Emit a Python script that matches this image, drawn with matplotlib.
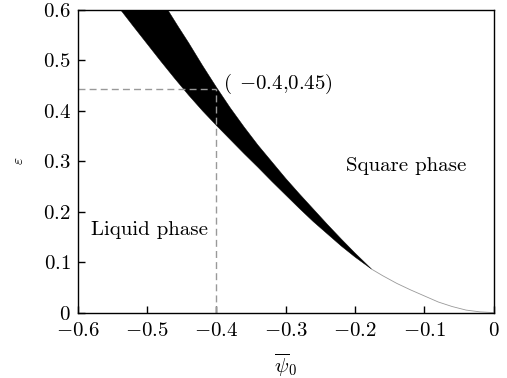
import numpy as np
import matplotlib
matplotlib.use("Agg")
from matplotlib import pyplot as plt

plt.rcParams["font.family"] = "serif"
plt.rcParams["font.serif"] = ["cmr10", "DejaVu Serif"]
plt.rcParams["mathtext.fontset"] = "cm"
plt.rcParams["axes.formatter.use_mathtext"] = True

# square phase boundary (upper curve)
psi_sq = [-0.470, -0.455, -0.440, -0.420, -0.400, -0.380, -0.360, -0.340,
          -0.320, -0.300, -0.280, -0.260, -0.240, -0.220, -0.200, -0.176]
eps_sq = [0.600, 0.567, 0.535, 0.490, 0.447, 0.406, 0.368, 0.332,
          0.299, 0.266, 0.235, 0.205, 0.175, 0.146, 0.118, 0.086]

# liquid phase boundary (lower curve)
psi_liq = [-0.538, -0.520, -0.500, -0.480, -0.460, -0.440, -0.420, -0.400,
           -0.380, -0.360, -0.340, -0.320, -0.300, -0.280, -0.260, -0.240,
           -0.220, -0.200, -0.176]
eps_liq = [0.600, 0.568, 0.533, 0.498, 0.464, 0.431, 0.400, 0.371,
           0.343, 0.315, 0.288, 0.260, 0.233, 0.206, 0.180, 0.156,
           0.132, 0.110, 0.086]

# where both boundaries meet
psi_tail = [-0.176, -0.160, -0.140, -0.120, -0.100, -0.080, -0.060, -0.040, -0.020, 0.0]
eps_tail = [0.086, 0.073, 0.058, 0.045, 0.033, 0.021, 0.012, 0.005, 0.0015, 0.0]

crit_psi = -0.4
crit_eps = 0.443

xticks = [-0.6, -0.5, -0.4, -0.3, -0.2, -0.1, 0]
xlabels = [r"$-0.6$", r"$-0.5$", r"$-0.4$", r"$-0.3$", r"$-0.2$", r"$-0.1$", r"$0$"]
yticks = [0, 0.1, 0.2, 0.3, 0.4, 0.5, 0.6]
ylabels = [r"$0$", r"$0.1$", r"$0.2$", r"$0.3$", r"$0.4$", r"$0.5$", r"$0.6$"]

fig = plt.figure(figsize=(5.07, 3.78), dpi=100)
ax = fig.add_axes([0.153, 0.173, 0.821, 0.801])

xs = np.r_[psi_sq, psi_liq[::-1]]
ys = np.r_[eps_sq, eps_liq[::-1]]
ax.fill(xs, ys, color="k", lw=0.3, ec="k")
ax.plot(psi_tail, eps_tail, color="0.6", lw=0.6)

ax.plot([-0.6, crit_psi], [crit_eps, crit_eps], ls=(0, (5, 3)), color="#999999", lw=1.0)
ax.plot([crit_psi, crit_psi], [0, crit_eps], ls=(0, (5, 3)), color="#999999", lw=1.0)

fs = 15
ax.text(-0.390, 0.454, r"$(\;\,{-}0.4{,}0.45)$", fontsize=fs, va="center", ha="left")
ax.text(-0.581, 0.164, "Liquid phase", fontsize=fs, va="center", ha="left")
ax.text(-0.213, 0.291, "Square phase", fontsize=fs, va="center", ha="left")

ax.set_xlim(-0.6, 0)
ax.set_ylim(0, 0.6)
ax.set_xticks(xticks)
ax.set_xticklabels(xlabels, fontsize=fs)
ax.set_yticks(yticks)
ax.set_yticklabels(ylabels, fontsize=fs)
ax.tick_params(direction="in", length=5, width=1, top=False, right=False)
ax.tick_params(axis="x", pad=7)
ax.tick_params(axis="y", pad=5)
for s in ax.spines.values():
    s.set_linewidth(1.0)

ax.set_xlabel(r"$\overline{\psi}_0$", fontsize=fs, labelpad=8)
ax.set_ylabel(r"$\varepsilon$", fontsize=fs - 4, labelpad=12)

fig.savefig("out.png", dpi=100)
